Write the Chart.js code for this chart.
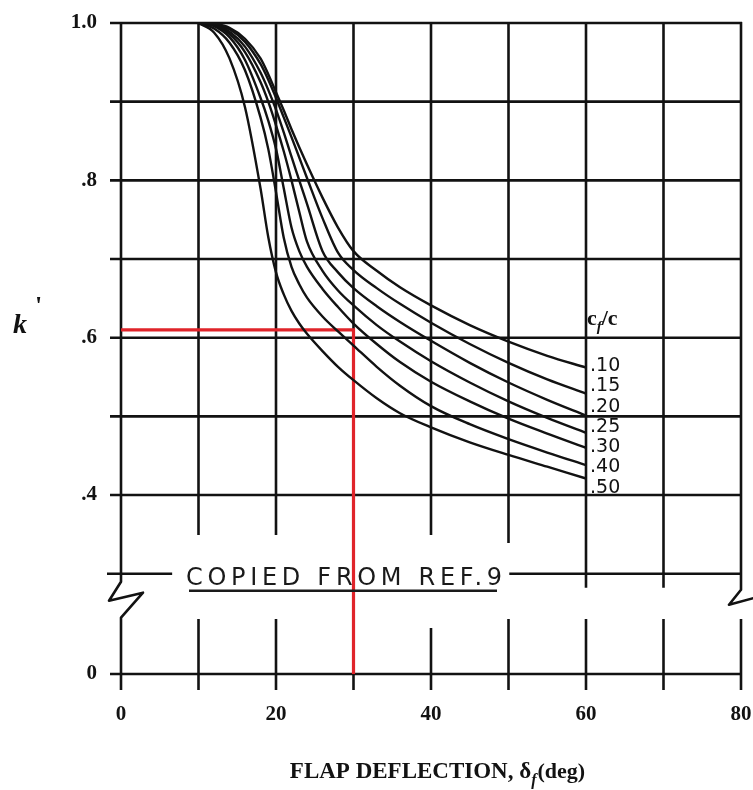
<!DOCTYPE html>
<html><head><meta charset="utf-8">
<script src="https://cdn.jsdelivr.net/npm/chart.js@4.4.0/dist/chart.umd.min.js"></script>
<style>html,body{margin:0;padding:0;background:#fff;} canvas{display:block;}</style>
</head><body>
<canvas id="c" width="753" height="790"></canvas>
<script>
// ---- data ----
const FLAP_DEFLECTION = [10, 12, 14, 16, 18, 19, 20, 21, 22, 23, 24, 26, 28, 30, 33, 36, 40, 45, 50, 55, 60];
const CF_RATIOS = ['.10', '.15', '.20', '.25', '.30', '.40', '.50'];
const K_CF_010 = [1.000, 0.999, 0.994, 0.980, 0.955, 0.935, 0.912, 0.889, 0.865, 0.842, 0.820, 0.778, 0.740, 0.710, 0.685, 0.664, 0.641, 0.616, 0.595, 0.577, 0.562];
const K_CF_015 = [1.000, 0.999, 0.992, 0.976, 0.948, 0.928, 0.905, 0.880, 0.855, 0.829, 0.803, 0.752, 0.708, 0.686, 0.663, 0.643, 0.619, 0.592, 0.568, 0.547, 0.529];
const K_CF_020 = [1.000, 0.998, 0.989, 0.970, 0.937, 0.915, 0.890, 0.861, 0.830, 0.800, 0.770, 0.710, 0.683, 0.663, 0.640, 0.620, 0.596, 0.568, 0.543, 0.521, 0.501];
const K_CF_025 = [1.000, 0.997, 0.986, 0.963, 0.925, 0.900, 0.870, 0.837, 0.800, 0.760, 0.722, 0.685, 0.660, 0.641, 0.616, 0.595, 0.570, 0.543, 0.519, 0.498, 0.479];
const K_CF_030 = [1.000, 0.996, 0.982, 0.953, 0.905, 0.876, 0.840, 0.790, 0.740, 0.710, 0.690, 0.662, 0.639, 0.618, 0.592, 0.569, 0.544, 0.519, 0.497, 0.478, 0.460];
const K_CF_040 = [1.000, 0.993, 0.975, 0.940, 0.880, 0.840, 0.785, 0.727, 0.690, 0.668, 0.651, 0.627, 0.608, 0.590, 0.563, 0.539, 0.513, 0.490, 0.471, 0.454, 0.438];
const K_CF_050 = [1.000, 0.988, 0.955, 0.893, 0.790, 0.728, 0.683, 0.655, 0.634, 0.618, 0.605, 0.583, 0.563, 0.546, 0.523, 0.504, 0.486, 0.467, 0.451, 0.436, 0.421];
const K_SERIES = [K_CF_010, K_CF_015, K_CF_020, K_CF_025, K_CF_030, K_CF_040, K_CF_050];

const READ_X = [0, 30, 30];        // red reading line
const READ_Y = [0.61, 0.61, 0];

const X_TICKS = [0, 20, 40, 60, 80];
const X_GRID = [10, 20, 30, 40, 50, 60, 70];
const Y_TICKS = [0, 0.4, 0.6, 0.8, 1.0];
const Y_TICK_LABELS = ['0', '.4', '.6', '.8', '1.0'];
const Y_GRID = [1.0, 0.9, 0.8, 0.7, 0.6, 0.5, 0.4];
const Y_BREAK = 0.3;
const AXIS_ZERO = 0.1725;          // where k' = 0 sits below the axis break
const mapK = v => (v === 0 ? AXIS_ZERO : v);

const INK = '#121212';
const SERIF = '"Liberation Serif", "DejaVu Serif", serif';

const datasets = K_SERIES.map((ys, i) => ({
  label: CF_RATIOS[i],
  data: FLAP_DEFLECTION.map((x, j) => ({x, y: ys[j]})),
  borderColor: INK, borderWidth: 2.4, pointRadius: 0, showLine: true,
  cubicInterpolationMode: 'monotone', fill: false
}));
datasets.push({
  label: 'reading',
  data: READ_X.map((x, j) => ({x, y: mapK(READ_Y[j])})),
  borderColor: '#e0242a', borderWidth: 3.2, pointRadius: 0, showLine: true,
  tension: 0, fill: false, borderJoinStyle: 'miter'
});

const zeroPad = s => { s.paddingLeft = 0; s.paddingRight = 0; s.paddingTop = 0; s.paddingBottom = 0; };

const gridPlugin = {
  id: 'gridPlugin',
  beforeDatasetsDraw(chart) {
    const ctx = chart.ctx, xs = chart.scales.x, ys = chart.scales.y;
    const X = v => xs.getPixelForValue(v), Y = v => ys.getPixelForValue(v);
    const x0 = X(0), x80 = X(80), yTop = Y(1.0), y04 = Y(0.4), yBr = Y(Y_BREAK), yZ = Y(AXIS_ZERO);
    ctx.save();
    ctx.strokeStyle = INK; ctx.lineWidth = 2.6; ctx.lineCap = 'butt';
    const line = (a, b, c, d) => { ctx.beginPath(); ctx.moveTo(a, b); ctx.lineTo(c, d); ctx.stroke(); };
    // horizontal grid
    Y_GRID.forEach(v => line(x0 - 11, Y(v), x80 + 1, Y(v)));
    line(x0 - 11, yZ, x80 + 1, yZ);
    // break line (interrupted by the note)
    line(x0 - 14, yBr, X(6.6), yBr);
    line(X(50.1), yBr, x80 + 1, yBr);
    // vertical grid, upper part
    X_GRID.forEach(v => {
      let end = y04 + 40;
      if (v === 50) end = y04 + 48;
      if (v >= 60) end = yBr + 14;
      line(X(v), yTop, X(v), end);
    });
    // vertical grid, lower part
    X_GRID.forEach(v => line(X(v), yZ - (v === 40 ? 46 : 55), X(v), yZ + 16));
    // left axis with break
    ctx.lineJoin = 'round';
    ctx.beginPath();
    ctx.moveTo(x0, yTop - 1); ctx.lineTo(x0, yBr + 8);
    ctx.lineTo(x0 - 12, yBr + 27); ctx.lineTo(x0 + 22, yBr + 19);
    ctx.lineTo(x0, yBr + 44); ctx.lineTo(x0, yZ + 16);
    ctx.stroke();
    // right axis with break
    ctx.beginPath();
    ctx.moveTo(x80, yTop - 1); ctx.lineTo(x80, yBr + 16);
    ctx.lineTo(x80 - 12, yBr + 31); ctx.lineTo(x80 + 14, yBr + 24);
    ctx.stroke();
    ctx.beginPath();
    ctx.moveTo(x80, yZ - 55); ctx.lineTo(x80, yZ + 16);
    ctx.stroke();
    ctx.restore();
  },
  afterDraw(chart) {
    const ctx = chart.ctx, xs = chart.scales.x, ys = chart.scales.y;
    const X = v => xs.getPixelForValue(v), Y = v => ys.getPixelForValue(v);
    ctx.save();
    ctx.fillStyle = INK;
    ctx.textBaseline = 'alphabetic';
    // x axis title with subscript
    const parts = [
      {t: 'FLAP DEFLECTION, \u03B4', f: 'bold 23px ' + SERIF, dy: 0},
      {t: 'f', f: 'italic bold 16px ' + SERIF, dy: 7},
      {t: '(deg)', f: 'bold 22px ' + SERIF, dy: 0}
    ];
    let w = 0;
    parts.forEach(p => { ctx.font = p.f; p.w = ctx.measureText(p.t).width; w += p.w; });
    let cx = 437 - w / 2;
    parts.forEach(p => { ctx.font = p.f; ctx.fillText(p.t, cx, 778 + p.dy); cx += p.w + (p.t === 'f' ? 1 : 0); });
    // y axis title k'
    ctx.font = 'italic bold 28px ' + SERIF;
    ctx.fillText('k', 13, 333);
    ctx.font = 'bold 26px ' + SERIF;
    ctx.fillText('\'', 35, 314);
    // cf/c header
    ctx.font = 'bold 22px ' + SERIF;
    let hx = X(60) + 1;
    ctx.fillText('c', hx, 325);
    let cw = ctx.measureText('c').width;
    ctx.font = 'italic bold 15px ' + SERIF;
    ctx.fillText('f', hx + cw, 331);
    let fw = ctx.measureText('f').width;
    ctx.font = 'bold 22px ' + SERIF;
    ctx.fillText('/c', hx + cw + fw, 325);
    // curve labels
    ctx.font = '19px "DejaVu Sans", sans-serif';
    ctx.textBaseline = 'middle';
    CF_RATIOS.forEach((lab, i) => ctx.fillText(lab, X(60) + 4, 366 + i * 20.3));
    // note
    const note = 'COPIED FROM REF.9';
    ctx.font = '24px "DejaVu Sans", sans-serif';
    ctx.textBaseline = 'alphabetic';
    const nw = ctx.measureText(note).width;
    const target = 316;
    ctx.letterSpacing = ((target - nw) / (note.length - 1)).toFixed(2) + 'px';
    ctx.fillStyle = '#1a1a1a';
    ctx.fillText(note, 186, Y(Y_BREAK) + 11);
    ctx.letterSpacing = '0px';
    ctx.strokeStyle = '#1a1a1a'; ctx.lineWidth = 2.4;
    ctx.beginPath(); ctx.moveTo(189, Y(Y_BREAK) + 17); ctx.lineTo(497, Y(Y_BREAK) + 17); ctx.stroke();
    ctx.restore();
  }
};

new Chart(document.getElementById('c'), {
  type: 'scatter',
  data: {datasets},
  options: {
    responsive: false, animation: false, devicePixelRatio: 1,
    layout: {padding: {left: 0, right: 12, top: 23, bottom: 0}},
    plugins: {legend: {display: false}, tooltip: {enabled: false}},
    scales: {
      x: {
        type: 'linear', min: 0, max: 80,
        afterBuildTicks: a => { a.ticks = X_TICKS.map(v => ({value: v})); },
        afterFit: s => { s.height = 116; zeroPad(s); },
        grid: {display: false, drawTicks: false}, border: {display: false},
        ticks: {color: INK, padding: 28, maxRotation: 0, font: {family: SERIF, weight: 'bold', size: 21}}
      },
      y: {
        type: 'linear', min: AXIS_ZERO, max: 1.0,
        afterBuildTicks: a => { a.ticks = Y_TICKS.map(v => ({value: mapK(v)})); },
        afterFit: s => { s.width = 121; zeroPad(s); },
        grid: {display: false, drawTicks: false}, border: {display: false},
        ticks: {color: INK, padding: 24, font: {family: SERIF, weight: 'bold', size: 21},
                callback: (v, i) => Y_TICK_LABELS[i]}
      }
    }
  },
  plugins: [gridPlugin]
});
</script>
</body></html>
